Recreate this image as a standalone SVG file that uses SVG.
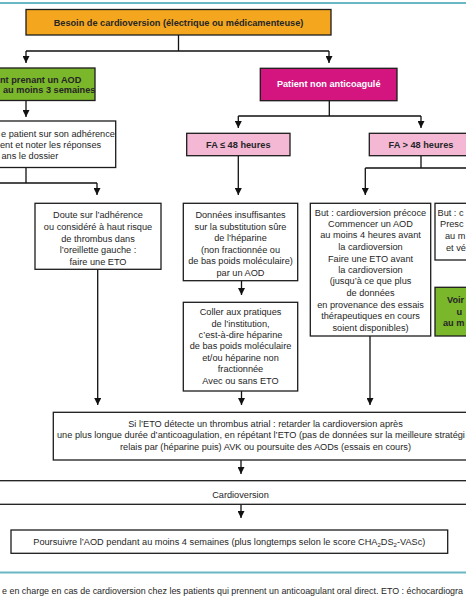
<svg xmlns="http://www.w3.org/2000/svg" width="466" height="600" viewBox="0 0 466 600">
<defs>
<marker id="ah" markerUnits="userSpaceOnUse" markerWidth="7" markerHeight="7" refX="7" refY="3.5" orient="auto">
<path d="M0,0 L7,3.5 L0,7 z" fill="#111"/>
</marker>
<style>
.box{stroke:#1c1c1c;stroke-width:1.3}
.w{fill:#ffffff}
.or{fill:#f4a71e}
.gr{fill:#7ab72b}
.mg{fill:#d4157f}
.pk{fill:#f4b8d5}
.t{font-family:"Liberation Sans",Arial,sans-serif;font-size:9.2px;fill:#262626}
.b{font-weight:bold}
.c{text-anchor:middle}
.wt{fill:#ffffff}
.conn path{stroke:#111;stroke-width:1.3;fill:none}
.arr{marker-end:url(#ah)}
.teal{stroke:#6bb8c4;stroke-width:2}
</style>
</defs>
<rect width="466" height="600" fill="#ffffff"/>
<line class="teal" x1="0" y1="3" x2="466" y2="3"/>
<line class="teal" x1="0" y1="572.5" x2="466" y2="572.5"/>

<g class="conn">
<path d="M178.5 35 V51 M26 51 H329"/>
<path class="arr" d="M26 51 V63"/>
<path class="arr" d="M329 51 V63"/>
<path class="arr" d="M26 100.5 V117"/>
<path d="M26 167.5 V183 M0 183 H97"/>
<path class="arr" d="M97 183 V195"/>
<path class="arr" d="M97.7 269.3 V405"/>
<path d="M329.3 100.7 V116 M238.3 116 H421"/>
<path class="arr" d="M238.3 116 V128"/>
<path class="arr" d="M421 116 V128"/>
<path class="arr" d="M238.3 155.7 V195"/>
<path d="M421 155.7 V168 M365.3 168 H466"/>
<path class="arr" d="M365.3 168 V195"/>
<path class="arr" d="M241.5 280.7 V295"/>
<path class="arr" d="M241.5 391 V405"/>
<path class="arr" d="M370 336 V405"/>
<path class="arr" d="M241 460 V474"/>
<path class="arr" d="M241 504.3 V518"/>
</g>

<g id="n-besoin">
<rect class="box or" x="26" y="9.5" width="305" height="25.5"/>
<text class="t b c" x="178.5" y="26.3" font-size="11.2">Besoin de cardioversion (électrique ou médicamenteuse)</text>
</g>

<g id="n-aod">
<rect class="box gr" x="-5" y="68" width="100" height="32.5"/>
<text class="t b" x="0" y="82.5">nt prenant un AOD</text>
<text class="t b" x="3" y="92.8">au moins 3 semaines</text>
</g>

<g id="n-interroger">
<rect class="box w" x="-5" y="121" width="120.7" height="46.5"/>
<text class="t" x="1" y="136.6">e patient sur son adhérence</text>
<text class="t" x="0" y="148.3">ent et noter les réponses</text>
<text class="t" x="1.5" y="159">ans le dossier</text>
</g>

<g id="n-doute">
<rect class="box w" x="35" y="203.3" width="126" height="66"/>
<text class="t c" x="98" y="218.3">Doute sur l’adhérence</text>
<text class="t c" x="98" y="230">ou considéré à haut risque</text>
<text class="t c" x="98" y="241.6">de thrombus dans</text>
<text class="t c" x="98" y="253.2">l’oreillette gauche :</text>
<text class="t c" x="98" y="264.8">faire une ETO</text>
</g>

<g id="n-nonanticoag">
<rect class="box mg" x="260.3" y="68.3" width="136.7" height="32.4"/>
<text class="t b c wt" x="328.7" y="87.3">Patient non anticoagulé</text>
</g>

<g id="n-fa-le48">
<rect class="box pk" x="186.7" y="133.3" width="103.3" height="22.4"/>
<text class="t b c" x="238.3" y="148.3">FA ≤ 48 heures</text>
</g>

<g id="n-fa-gt48">
<rect class="box pk" x="369.3" y="133.3" width="104" height="22.4"/>
<text class="t b c" x="421" y="148.3">FA &gt; 48 heures</text>
</g>

<g id="n-donnees">
<rect class="box w" x="183.3" y="203.3" width="114.4" height="77.4"/>
<text class="t c" x="240.5" y="218.3">Données insuffisantes</text>
<text class="t c" x="240.5" y="230">sur la substitution sûre</text>
<text class="t c" x="240.5" y="241.3">de l’héparine</text>
<text class="t c" x="240.5" y="253">(non fractionnée ou</text>
<text class="t c" x="240.5" y="264.3">de bas poids moléculaire)</text>
<text class="t c" x="240.5" y="275.8">par un AOD</text>
</g>

<g id="n-coller">
<rect class="box w" x="183.3" y="302.3" width="114.4" height="88.7"/>
<text class="t c" x="240.5" y="315">Coller aux pratiques</text>
<text class="t c" x="240.5" y="326.6">de l’institution,</text>
<text class="t c" x="240.5" y="338">c’est-à-dire héparine</text>
<text class="t c" x="240.5" y="349.3">de bas poids moléculaire</text>
<text class="t c" x="240.5" y="361">et/ou héparine non</text>
<text class="t c" x="240.5" y="372.3">fractionnée</text>
<text class="t c" x="240.5" y="384">Avec ou sans ETO</text>
</g>

<g id="n-but">
<rect class="box w" x="310.3" y="203.3" width="120.4" height="132.7"/>
<text class="t c" x="370.5" y="216">But : cardioversion précoce</text>
<text class="t c" x="370.5" y="227">Commencer un AOD</text>
<text class="t c" x="370.5" y="238.3">au moins 4 heures avant</text>
<text class="t c" x="370.5" y="250">la cardioversion</text>
<text class="t c" x="370.5" y="261.6">Faire une ETO avant</text>
<text class="t c" x="370.5" y="273.3">la cardioversion</text>
<text class="t c" x="370.5" y="284.3">(jusqu’à ce que plus</text>
<text class="t c" x="370.5" y="296">de données</text>
<text class="t c" x="370.5" y="307.6">en provenance des essais</text>
<text class="t c" x="370.5" y="319.3">thérapeutiques en cours</text>
<text class="t c" x="370.5" y="330.6">soient disponibles)</text>
</g>

<g id="n-but2">
<rect class="box w" x="435" y="203.3" width="60" height="56.7"/>
<text class="t" x="437.5" y="216">But : c</text>
<text class="t" x="440" y="227.3">Presc</text>
<text class="t" x="445" y="239">au m</text>
<text class="t" x="446" y="250.5">et vé</text>
</g>

<g id="n-voir">
<rect class="box gr" x="435" y="287.3" width="60" height="48.7"/>
<text class="t b" x="447" y="303.3">Voir</text>
<text class="t b" x="456.5" y="315">u</text>
<text class="t b" x="443" y="326">au m</text>
</g>

<g id="n-thrombus">
<rect class="box w" x="53.3" y="412.3" width="430" height="47.7"/>
<text class="t c" x="265.5" y="426.6">Si l’ETO détecte un thrombus atrial : retarder la cardioversion après</text>
<text class="t" x="57" y="438.3">une plus longue durée d’anticoagulation, en répétant l’ETO (pas de données sur la meilleure stratégi</text>
<text class="t c" x="265.5" y="449.5">relais par (héparine puis) AVK ou poursuite des AODs (essais en cours)</text>
</g>

<g id="n-cardioversion">
<rect class="box w" x="-5" y="480.7" width="476" height="23.6"/>
<text class="t c" x="240.5" y="498">Cardioversion</text>
</g>

<g id="n-poursuivre">
<rect class="box w" x="11" y="530" width="436.7" height="23.3"/>
<text class="t c" x="229.3" y="545">Poursuivre l’AOD pendant au moins 4 semaines (plus longtemps selon le score CHA<tspan font-size="6" dy="2">2</tspan><tspan dy="-2">DS</tspan><tspan font-size="6" dy="2">2</tspan><tspan dy="-2">-VASc)</tspan></text>
</g>

<text class="t" x="2" y="594" font-size="8" textLength="461" lengthAdjust="spacingAndGlyphs">e en charge en cas de cardioversion chez les patients qui prennent un anticoagulant oral direct. ETO : échocardiogra</text>
</svg>
